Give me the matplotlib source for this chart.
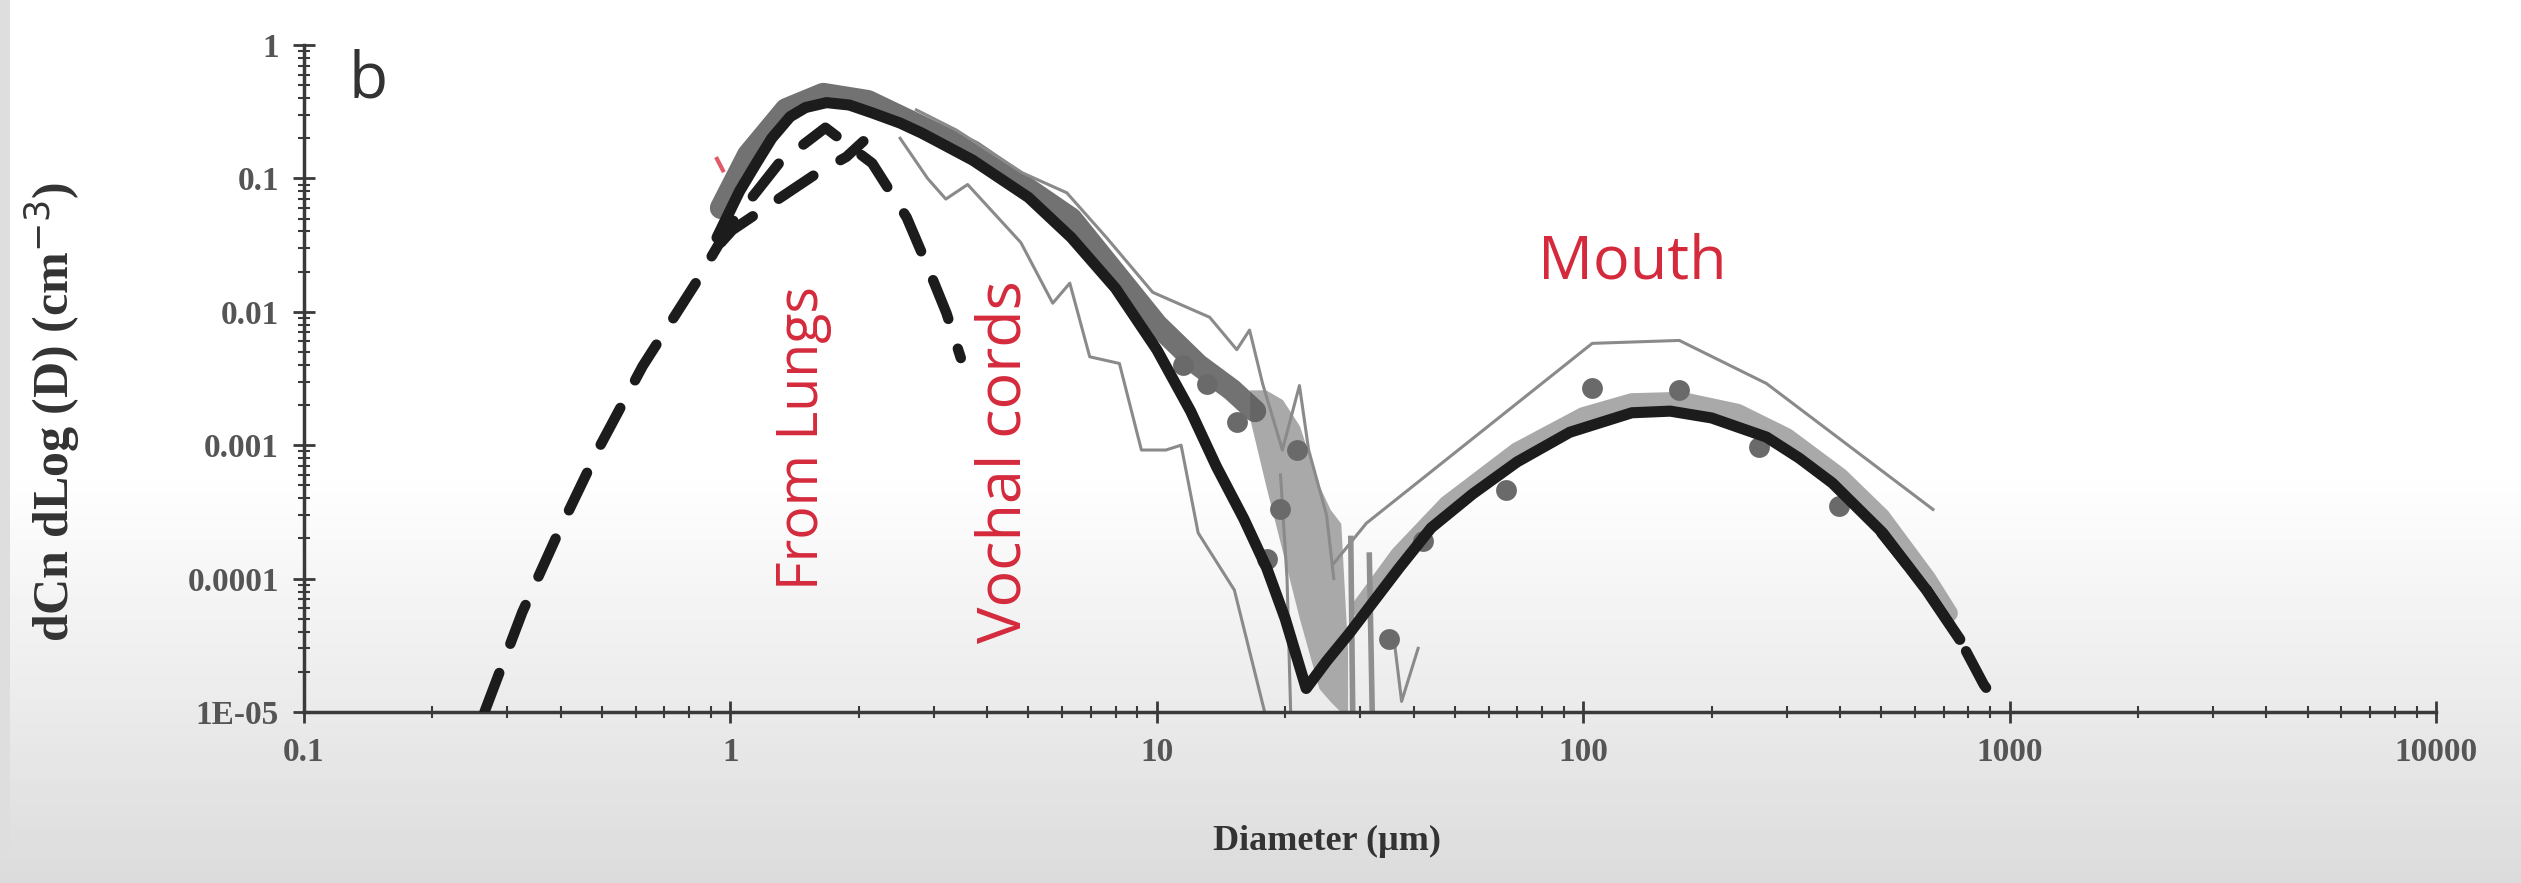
import numpy as np
import matplotlib
matplotlib.use("Agg")
import matplotlib.pyplot as plt
from matplotlib.ticker import LogLocator, NullFormatter

# ==========================================
# DATA
# ==========================================

# thick black fitted curve
fit_d = [0.93, 1.05, 1.15, 1.25, 1.38, 1.5, 1.68, 1.9, 2.15, 2.5, 2.8, 3.7, 5.0, 6.3, 8.0, 10.0,
         12.0, 13.8, 16.0, 18.1, 20.0, 22.4, 25.0, 28.3, 37, 44, 55, 70, 93, 130, 160, 200, 269,
         321, 384, 504, 638, 764]
fit_n = [0.036, 0.08, 0.13, 0.2, 0.29, 0.34, 0.37, 0.355, 0.31, 0.26, 0.22, 0.137, 0.072, 0.036,
         0.015, 0.0052, 0.0018, 6.9e-4, 2.8e-4, 1.2e-4, 5e-5, 1.5e-5, 2.4e-5, 3.9e-5, 1.2e-4,
         2.4e-4, 4.3e-4, 7.5e-4, 1.25e-3, 1.75e-3, 1.8e-3, 1.6e-3, 1.15e-3, 8e-4, 5.2e-4,
         2.2e-4, 8.2e-5, 3.5e-5]

# dark grey band of overlapping measurements (first mode)
band1_d = [0.95, 1.1, 1.35, 1.65, 2.1, 3.7, 6.3, 10.0, 12.5, 15.0, 17.0]
band1_n = [0.06, 0.15, 0.33, 0.43, 0.38, 0.16, 0.05, 0.008, 0.004, 0.0026, 0.0018]

# light grey band (mouth mode)
band2_d = [30, 37, 48, 70, 100, 130, 170, 230, 300, 400, 500, 640, 720]
band2_n = [6e-5, 1.5e-4, 3.6e-4, 9e-4, 1.65e-3, 2.1e-3, 2.15e-3, 1.75e-3, 1.15e-3,
           5.8e-4, 2.9e-4, 1.0e-4, 5.5e-5]

# light grey wedge around the minimum
wedge_d = [16.5, 18, 19.7, 21.6, 24, 25.5, 27, 28]
wedge_hi = [2.6e-3, 2.6e-3, 2.2e-3, 1.4e-3, 5e-4, 3.3e-4, 2.6e-4, 3e-5]
wedge_lo = [1.6e-3, 5e-4, 1.6e-4, 5e-5, 1.5e-5, 1.2e-5, 1e-5, 1e-5]

# thin grey individual traces
trace_a_d = [2.73, 3.39, 4.84, 6.15, 7.62, 9.78, 13.3, 15.4, 16.5, 17.7, 19.7, 21.6, 22.7, 25.0, 26.0]
trace_a_n = [0.326, 0.23, 0.11, 0.078, 0.036, 0.014, 9.1e-3, 5.2e-3, 7.3e-3, 2.9e-3,
             9.2e-4, 2.8e-3, 9.2e-4, 3e-4, 1e-4]
trace_b_d = [2.5, 2.9, 3.2, 3.6, 4.8, 5.7, 6.25, 6.96, 8.17, 9.2, 10.5, 11.4, 12.5, 15.2, 17.9]
trace_b_n = [0.2, 0.1, 0.07, 0.09, 0.033, 0.0116, 0.0164, 0.0046, 0.0041, 9.2e-4, 9.2e-4,
             1.0e-3, 2.2e-4, 8.2e-5, 1e-5]
trace_c_d = [19.5, 20.2, 20.6]
trace_c_n = [6e-4, 1e-4, 1e-5]
trace_d_d = [26, 31, 105, 168, 269, 661]
trace_d_n = [1.3e-4, 2.6e-4, 5.8e-3, 6.1e-3, 2.9e-3, 3.3e-4]
trace_e_d = [28.5, 28.8, 31.5, 32.0]
trace_e_n = [2e-4, 1e-5, 1.5e-4, 1e-5]
trace_f_d = [36, 37.5, 41]
trace_f_n = [3.5e-5, 1.2e-5, 3e-5]

# grey circles (individual measurements)
dots_d = [11.5, 13.1, 15.4, 21.3, 19.4, 18.1, 35, 42, 66, 105, 168, 258, 399]
dots_n = [4e-3, 2.9e-3, 1.5e-3, 9.2e-4, 3.3e-4, 1.4e-4, 3.5e-5, 1.9e-4, 4.6e-4,
          2.7e-3, 2.6e-3, 9.7e-4, 3.5e-4]

# dashed modal curves
lung_d = [0.265, 0.325, 0.397, 0.493, 0.622, 0.83, 1.0, 1.3, 1.67, 2.15, 2.59, 2.88, 3.21, 3.47]
lung_n = [1e-5, 5.6e-5, 2.3e-4, 9.7e-4, 3.9e-3, 0.0165, 0.045, 0.13, 0.24, 0.13, 0.051,
          0.023, 0.0098, 0.0045]
voc_d = [0.95, 1.01, 1.26, 1.6, 1.87, 2.05]
voc_n = [0.033, 0.041, 0.066, 0.11, 0.145, 0.19]
mouth_d = [500, 640, 764, 870, 970]
mouth_n = [2.2e-4, 8.2e-5, 3.5e-5, 1.6e-5, 1.0e-5]

y_ticks = [1e-5, 1e-4, 1e-3, 1e-2, 1e-1, 1]
y_labels = ["1E-05", "0.0001", "0.001", "0.01", "0.1", "1"]
x_ticks = [0.1, 1, 10, 100, 1000, 10000]
x_labels = ["0.1", "1", "10", "100", "1000", "10000"]

RED = "#d42a3c"
SERIF = ["Liberation Serif", "DejaVu Serif"]
SANS = ["Open Sans", "DejaVu Sans"]

# ==========================================

fig = plt.figure(figsize=(25.21, 8.83), dpi=100)

# screenshot-like background: white fading to light grey at the bottom
bg = fig.add_axes([0, 0, 1, 1], zorder=-5)
rows = np.ones((883, 1))
fade = np.linspace(0, 1, 883 - 470)
rows[470:, 0] = 1.0 - 0.14 * fade
grad = np.repeat(rows, 2521, axis=1)
grad[:, :10] = np.minimum(grad[:, :10], 0.87)
bg.imshow(grad, cmap="gray", vmin=0, vmax=1, aspect="auto", extent=[0, 1, 0, 1])
bg.axis("off")

ax = fig.add_axes([0.1206, 0.1937, 0.8457, 0.7553])
ax.patch.set_alpha(0)
ax.set_xscale("log")
ax.set_yscale("log")
ax.set_xlim(0.1, 10000)
ax.set_ylim(1e-5, 1)

# bands and wedge
ax.fill_between(wedge_d, wedge_lo, wedge_hi, color="#a9a9a9", lw=0, zorder=1)
ax.plot(band1_d, band1_n, color="#595959", lw=16, alpha=0.85, solid_capstyle="round",
        solid_joinstyle="round", zorder=1)
ax.plot(band2_d, band2_n, color="#a0a0a0", lw=13, alpha=0.9, solid_capstyle="round",
        solid_joinstyle="round", zorder=1)

# thin traces
for td, tn in [(trace_a_d, trace_a_n), (trace_b_d, trace_b_n), (trace_c_d, trace_c_n),
               (trace_d_d, trace_d_n), (trace_f_d, trace_f_n)]:
    ax.plot(td, tn, color="#8a8a8a", lw=2.2, zorder=2)
ax.plot(trace_e_d[:2], trace_e_n[:2], color="#8f8f8f", lw=4, zorder=2)
ax.plot(trace_e_d[2:], trace_e_n[2:], color="#8f8f8f", lw=4, zorder=2)

# measurement points
ax.plot(dots_d, dots_n, "o", color="#6a6a6a", ms=15, mec="none", zorder=3)

# fitted curve
ax.plot(fit_d, fit_n, color="#1c1c1c", lw=8, solid_joinstyle="round", solid_capstyle="round",
        zorder=4)

# modal dashed curves
for dd, dn in [(lung_d, lung_n), (voc_d, voc_n), (mouth_d, mouth_n)]:
    ax.plot(dd, dn, color="#1c1c1c", lw=7.5, dashes=(4.0, 3.0), dash_capstyle="round", zorder=5)

# small pink stroke near the start of the fit
ax.plot([0.93, 0.96], [0.14, 0.115], color="#e05a6a", lw=3, zorder=6)

# axes styling
for side in ["top", "right"]:
    ax.spines[side].set_visible(False)
for side in ["left", "bottom"]:
    ax.spines[side].set_color("#3a3a3a")
    ax.spines[side].set_linewidth(2.5)

ax.set_yticks(y_ticks)
ax.set_yticklabels(y_labels)
ax.set_xticks(x_ticks)
ax.set_xticklabels(x_labels)
ax.yaxis.set_minor_locator(LogLocator(base=10, subs=np.arange(2, 10), numticks=50))
ax.xaxis.set_minor_locator(LogLocator(base=10, subs=np.arange(2, 10), numticks=50))
ax.yaxis.set_minor_formatter(NullFormatter())
ax.xaxis.set_minor_formatter(NullFormatter())
ax.tick_params(axis="both", which="major", direction="inout", length=16, width=2,
               color="#3a3a3a", labelcolor="#555555", labelsize=24)
ax.tick_params(axis="both", which="minor", direction="inout", length=8, width=1.5,
               color="#3a3a3a")
ax.tick_params(axis="y", which="major", pad=10)
ax.tick_params(axis="x", which="major", pad=10)
for lab in ax.get_xticklabels() + ax.get_yticklabels():
    lab.set_fontfamily(SERIF)
    lab.set_fontweight("bold")

ax.set_ylabel("dCn dLog (D) (cm$^{-3}$)", fontsize=36, fontweight="bold",
              family=SERIF, color="#333333")
ax.yaxis.set_label_coords(-0.104, 0.45)
ax.set_xlabel("Diameter (\u00b5m)", fontsize=26, fontweight="bold", family=SERIF, color="#333333")
ax.xaxis.set_label_coords(0.48, -0.17)

# annotations
ax.text(0.021, 0.995, "b", transform=ax.transAxes, ha="left", va="top",
        fontsize=46, family=SANS, color="#333333")
ax.text(1.48, 1.13e-3, "From Lungs", rotation=90, ha="center", va="center",
        fontsize=40, family=SANS, color=RED, zorder=7)
ax.text(4.4, 7.5e-4, "Vochal cords", rotation=90, ha="center", va="center",
        fontsize=44, family=SANS, color=RED, zorder=7)
ax.text(130, 0.0236, "Mouth", ha="center", va="center",
        fontsize=44, family=SANS, color=RED, zorder=7)

fig.savefig("out.png", dpi=100)
